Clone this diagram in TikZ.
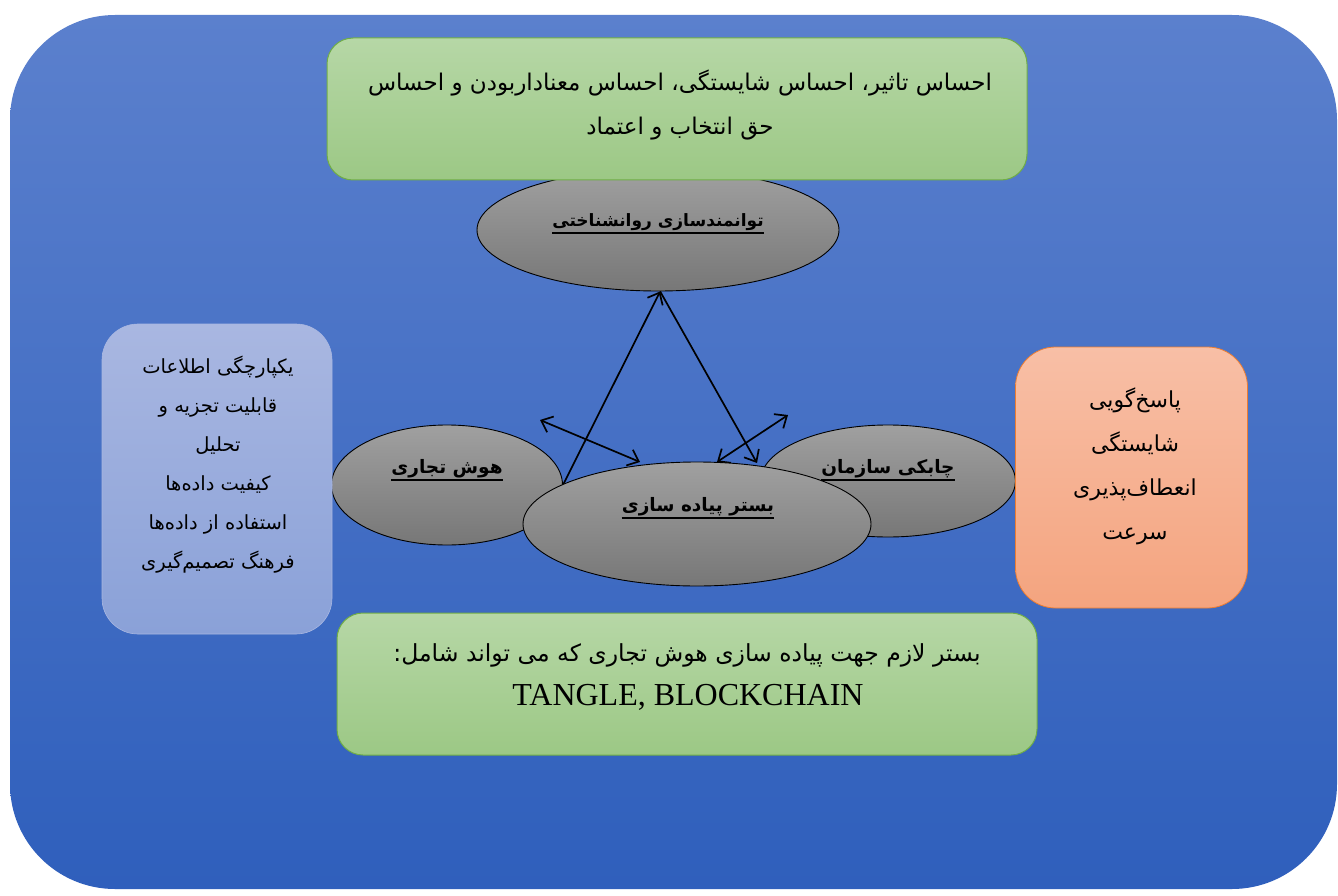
\documentclass[tikz,border=0pt]{standalone}
\usepackage{fontspec}
\setmainfont{Liberation Serif}
\newfontfamily\fa[Script=Arabic]{DejaVu Sans}
\TeXXeTstate=1
\usetikzlibrary{shapes.geometric,arrows.meta}
\definecolor{bgtop}{HTML}{5B80CD}
\definecolor{bgbot}{HTML}{2F5FBC}
\definecolor{grt}{HTML}{B6D7A6}
\definecolor{grb}{HTML}{9CC885}
\definecolor{grnb}{HTML}{70AD47}
\definecolor{lvt}{HTML}{A9B7E1}
\definecolor{lvb}{HTML}{8AA1D8}
\definecolor{sat}{HTML}{F8BFA6}
\definecolor{sab}{HTML}{F4A47F}
\definecolor{sabd}{HTML}{ED7D31}
\definecolor{gyt}{HTML}{A0A0A0}
\definecolor{gyb}{HTML}{777777}
\begin{document}
\begin{tikzpicture}[x=1pt,y=-1pt,
  ell/.style={ellipse, draw=black, line width=0.9pt, top color=gyt, bottom color=gyb, inner sep=0pt},
  gbox/.style={rectangle, rounded corners=26pt, draw=grnb, line width=1pt, top color=grt, bottom color=grb, inner sep=0pt},
  lbox/.style={rectangle, rounded corners=36pt, draw=lvt, line width=0.6pt, top color=lvt, bottom color=lvb, inner sep=0pt},
  sbox/.style={rectangle, rounded corners=40pt, draw=sabd, line width=0.8pt, top color=sat, bottom color=sab, inner sep=0pt},
  etxt/.style={font=\fa\bfseries\fontsize{18.5}{22}\selectfont, inner sep=0pt},
  btxt/.style={font=\fa\fontsize{23}{44}\selectfont, align=center, inner sep=0pt},
  stxt/.style={font=\fa\fontsize{19.5}{39}\selectfont, align=center, inner sep=0pt},
  arr/.style={line width=1.7pt, -{Straight Barb[length=10pt,width=17pt]}},
  darr/.style={line width=1.7pt, {Straight Barb[length=10pt,width=17pt]}-{Straight Barb[length=10pt,width=17pt]}},
  ulk/.style={line width=2pt}
]
\useasboundingbox (0,0) rectangle (1338,896);
\fill[white] (0,0) rectangle (1338,896);
\path[top color=bgtop, bottom color=bgbot, rounded corners=105pt] (10,15) rectangle (1337,889);

% top ellipse and box
\node[ell, minimum width=362pt, minimum height=122pt] (te) at (658,230) {};
\node[gbox, minimum width=700pt, minimum height=142pt] (gt) at (677,109) {};
\node[btxt] (gtt) at (680,105) {\beginR احساس تاثیر، احساس شایستگی، احساس معناداربودن و احساس\endR\\\beginR حق انتخاب و اعتماد\endR};

% side ellipses
\node[ell, minimum width=231pt, minimum height=120pt] (le) at (447,485) {};
\node[ell, minimum width=255pt, minimum height=112pt] (re) at (888,481) {};

% connectors
\coordinate (a1) at (540,420);
\coordinate (a2) at (788,415);
\draw[arr] (le.east) -- (te.-88);
\draw[arr] (te.-88) -- (757,463);
\draw[darr] (a1) -- (640,462);
\draw[darr] (a2) -- (717,462);

% centre ellipse
\node[ell, minimum width=348pt, minimum height=124pt] (ce) at (697,524) {};

% ellipse labels
\node[etxt, font=\fa\bfseries\fontsize{17}{20}\selectfont] (tet) at (658,222) {\beginR توانمندسازی روانشناختی\endR};
\node[etxt] (let) at (447,469) {\beginR هوش تجاری\endR};
\node[etxt] (ret) at (888,469) {\beginR چابکی سازمان\endR};
\node[etxt] (cet) at (698,507) {\beginR بستر پیاده سازی\endR};
\foreach \n in {tet,let,ret,cet}
  \draw[ulk] ([yshift=-2pt]\n.south west) -- ([yshift=-2pt]\n.south east);

% side boxes
\node[lbox, minimum width=230pt, minimum height=310pt] (lb) at (217,479) {};
\node[stxt] (lbt) at (218,465) {\beginR یکپارچگی اطلاعات\endR\\\beginR قابلیت تجزیه و\endR\\\beginR تحلیل\endR\\\beginR کیفیت داده‌ها\endR\\\beginR استفاده از داده‌ها\endR\\\beginR فرهنگ تصمیم‌گیری\endR};
\node[sbox, minimum width=232pt, minimum height=261pt] (sb) at (1131.5,477.5) {};
\node[stxt, font=\fa\fontsize{22}{44}\selectfont] (sbt) at (1135,466) {\beginR پاسخ‌گویی\endR\\\beginR شایستگی\endR\\\beginR انعطاف‌پذیری\endR\\\beginR سرعت\endR};

% bottom box
\node[gbox, minimum width=700pt, minimum height=142pt] (gb) at (687,684) {};
\node[btxt, font=\fa\fontsize{23.5}{30}\selectfont] (gbt1) at (687,655) {\beginR بستر لازم جهت پیاده سازی هوش تجاری که می تواند شامل:\endR};
\node[inner sep=0pt, font=\fontsize{32}{36}\selectfont] (gbt2) at (688,697) {TANGLE, BLOCKCHAIN};
\end{tikzpicture}
\end{document}
